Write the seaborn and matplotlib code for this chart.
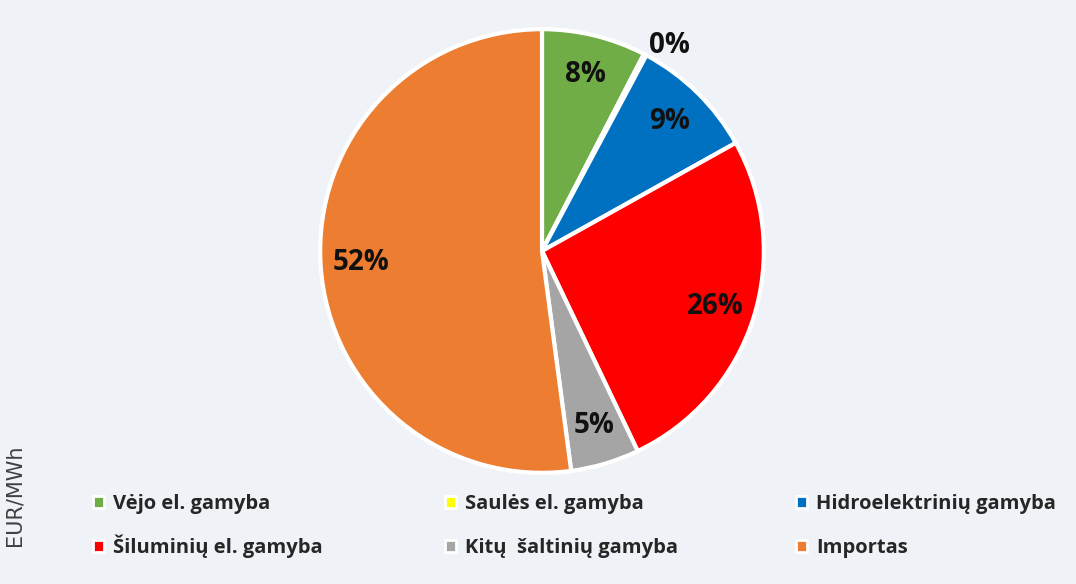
import numpy as np
import matplotlib
matplotlib.use("Agg")
import matplotlib.pyplot as plt
from matplotlib.patches import Patch
import seaborn as sns

# Duomenys (skaityta nuo paveikslo)
SOURCES = ["Vėjo el. gamyba", "Saulės el. gamyba", "Hidroelektrinių gamyba",
           "Šiluminių el. gamyba", "Kitų  šaltinių gamyba", "Importas"]
SHARES = [7.6, 0.2, 9.1, 26.0, 5.0, 52.1]
COLORS = ["#70AD47", "#FFFF00", "#0070C0", "#FF0000", "#A5A5A5", "#ED7D31"]

BG = "#EFF3F7"
W, H = 1076, 584

sns.set_theme(style="white")
plt.rcParams["font.family"] = ["Open Sans", "DejaVu Sans"]

fig = plt.figure(figsize=(W / 100, H / 100), dpi=100, facecolor=BG)
ax = fig.add_axes([298 / W, 89 / H, 488 / W, 488 / H])
ax.set_facecolor(BG)

wedges, texts, autotexts = ax.pie(
    SHARES, colors=COLORS, startangle=90, counterclock=False,
    autopct=lambda p: f"{p:.0f}%", pctdistance=0.82,
    wedgeprops=dict(edgecolor="white", linewidth=3),
    textprops=dict(fontsize=20, fontweight="bold", color="#111111"))
ax.set_xlim(-1.1, 1.1)
ax.set_ylim(-1.1, 1.1)
ax.set_aspect("equal")

# mažas segmentas - etiketė už skritulio ribų
for w, t, v in zip(wedges, autotexts, SHARES):
    if v < 1:
        ang = np.deg2rad((w.theta1 + w.theta2) / 2 - 4)
        t.set_position((1.09 * np.cos(ang), 1.09 * np.sin(ang)))

# legenda: 2 eilutės po 3, kiekvienas įrašas atskirai (lygiuojama pagal apačią)
col_x = [93, 445, 796]
row_bottom = [514, 558]
for i, (lab, col) in enumerate(zip(SOURCES, COLORS)):
    r, c = divmod(i, 3)
    fig.legend([Patch(facecolor=col, edgecolor="white", linewidth=2)], [lab],
               loc="lower left",
               bbox_to_anchor=(col_x[c] / W, (H - row_bottom[r]) / H),
               frameon=False, borderpad=0, borderaxespad=0,
               prop=dict(family=["Open Sans", "DejaVu Sans"], weight="bold", size=14.5),
               handlelength=0.55, handleheight=0.55, handletextpad=0.45)

fig.text(15 / W, (H - 495) / H, "EUR/MWh", rotation=90, ha="center", va="center",
         fontsize=15, color="#404040", family="DejaVu Sans")

fig.savefig("out.png", dpi=100, facecolor=BG)
